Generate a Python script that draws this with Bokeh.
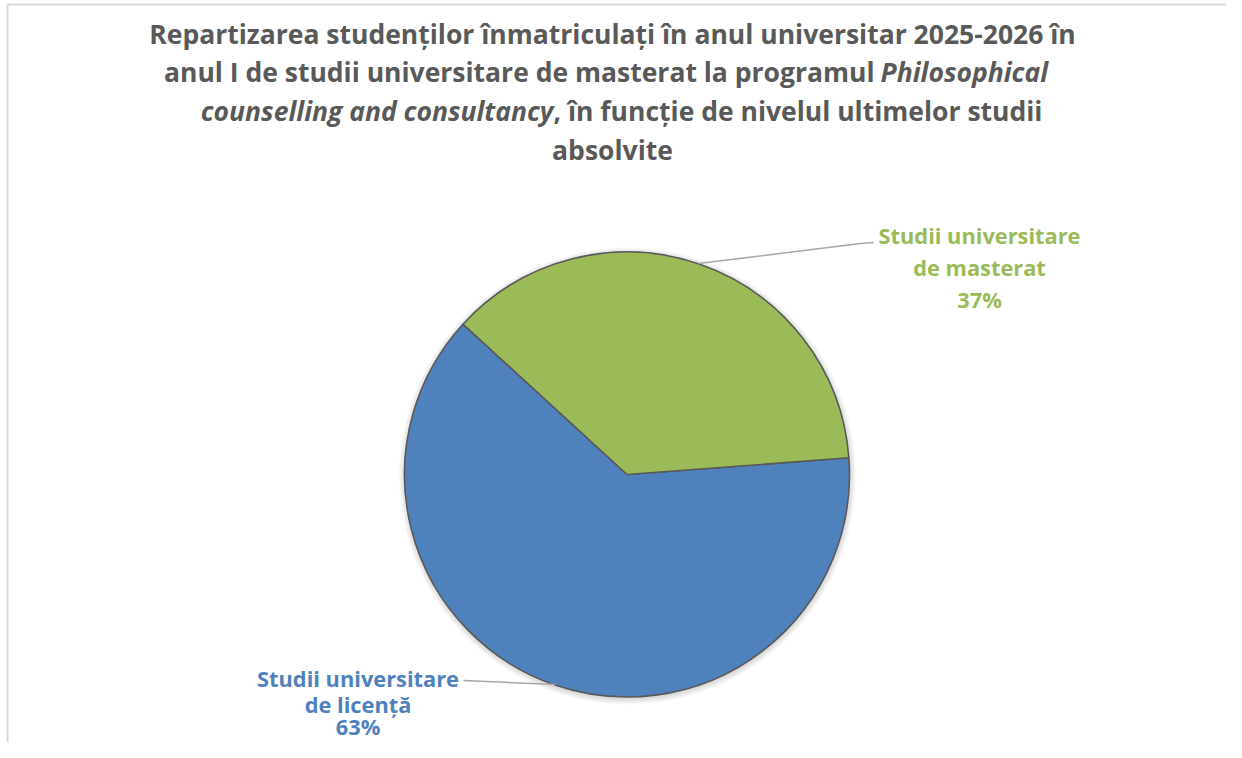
import math
from bokeh.plotting import figure
from bokeh.models import Range1d, ColumnDataSource
from bokeh.core.properties import value
from bokeh.embed import file_html
from bokeh.resources import INLINE

# ---- data ----
categories = ["Studii universitare de licență", "Studii universitare de masterat"]
percent = [63, 37]
label_lines = [["Studii universitare", "de licență", "63%"],
               ["Studii universitare", "de masterat", "37%"]]
title_line1 = "Repartizarea studenților înmatriculați în anul universitar 2025-2026 în"
title_line2a = "anul I de studii universitare de masterat la programul"
title_line2b = "Philosophical"
title_line3a = "counselling and consultancy"
title_line3b = ", în funcție de nivelul ultimelor studii"
title_line4 = "absolvite"

# ---- style ----
colors = ["#4F81BD", "#9BBB59"]
W, H = 1226, 742
FONT = "Open Sans"
TFS = "26.5px"
LFS = "21.8px"
TCOL = "#595959"
BASE_FIX = 8  # text baseline correction (px)

p = figure(width=W, height=H, output_backend="svg", toolbar_location=None,
           x_range=Range1d(0, W), y_range=Range1d(0, H),
           min_border=0, outline_line_color=None, background_fill_color="white")
p.xaxis.visible = False
p.yaxis.visible = False
p.grid.visible = False


def Y(py):
    return H - py


# frame (top + left, the rest is cropped in the reference)
p.line(x=[7, 7], y=[Y(H), Y(4)], line_color="#D9D9D9", line_width=2)
p.line(x=[7, W], y=[Y(4), Y(4)], line_color="#D9D9D9", line_width=2)

# pie geometry
cx, cy, r = 626.5, Y(474), 222.5
first_angle = math.radians(137.5)
total = sum(percent)
starts, ends = [], []
acc = first_angle
for v in percent:
    starts.append(acc)
    acc += 2 * math.pi * v / total
    ends.append(acc)

# soft shadow
for k in range(1, 7):
    p.circle(x=[cx + 0.5], y=[cy - 1.5], radius=r + k, fill_color="black",
             fill_alpha=0.025, line_color=None)

src = ColumnDataSource(dict(cat=categories, val=percent, start=starts, end=ends, color=colors))
p.wedge(x=cx, y=cy, radius=r, start_angle="start", end_angle="end",
        fill_color="color", line_color="#595959", line_width=1.6, source=src)

# leader lines
p.line(x=[698, 860, 873], y=[Y(263), Y(243), Y(242)], line_color="#A6A6A6", line_width=1.5)
p.line(x=[555, 463], y=[Y(684), Y(680)], line_color="#A6A6A6", line_width=1.5)

# data labels
label_pos = [(357.5, [686, 712, 734]), (979, [243, 275, 307])]
for i, (lx, bys) in enumerate(label_pos):
    p.text(x=[lx] * 3, y=[Y(b - BASE_FIX) for b in bys], text=label_lines[i],
           text_font=value(FONT), text_font_style="bold", text_font_size=LFS,
           text_color=colors[i], text_align="center", text_baseline="alphabetic")

# title
def t(x, py, s, style="bold", align="center"):
    p.text(x=[x], y=[Y(py - BASE_FIX)], text=[s], text_font=value(FONT), text_font_style=style,
           text_font_size=TFS, text_color=TCOL, text_align=align, text_baseline="alphabetic")

t(612, 41, title_line1)
t(874, 79.5, title_line2a, align="right")
t(880, 79.5, title_line2b, style="bold italic", align="left")
t(553, 118, title_line3a, style="bold italic", align="right")
t(553, 118, title_line3b, align="left")
t(612, 157, title_line4)

open("out.html", "w").write(file_html(p, INLINE))
